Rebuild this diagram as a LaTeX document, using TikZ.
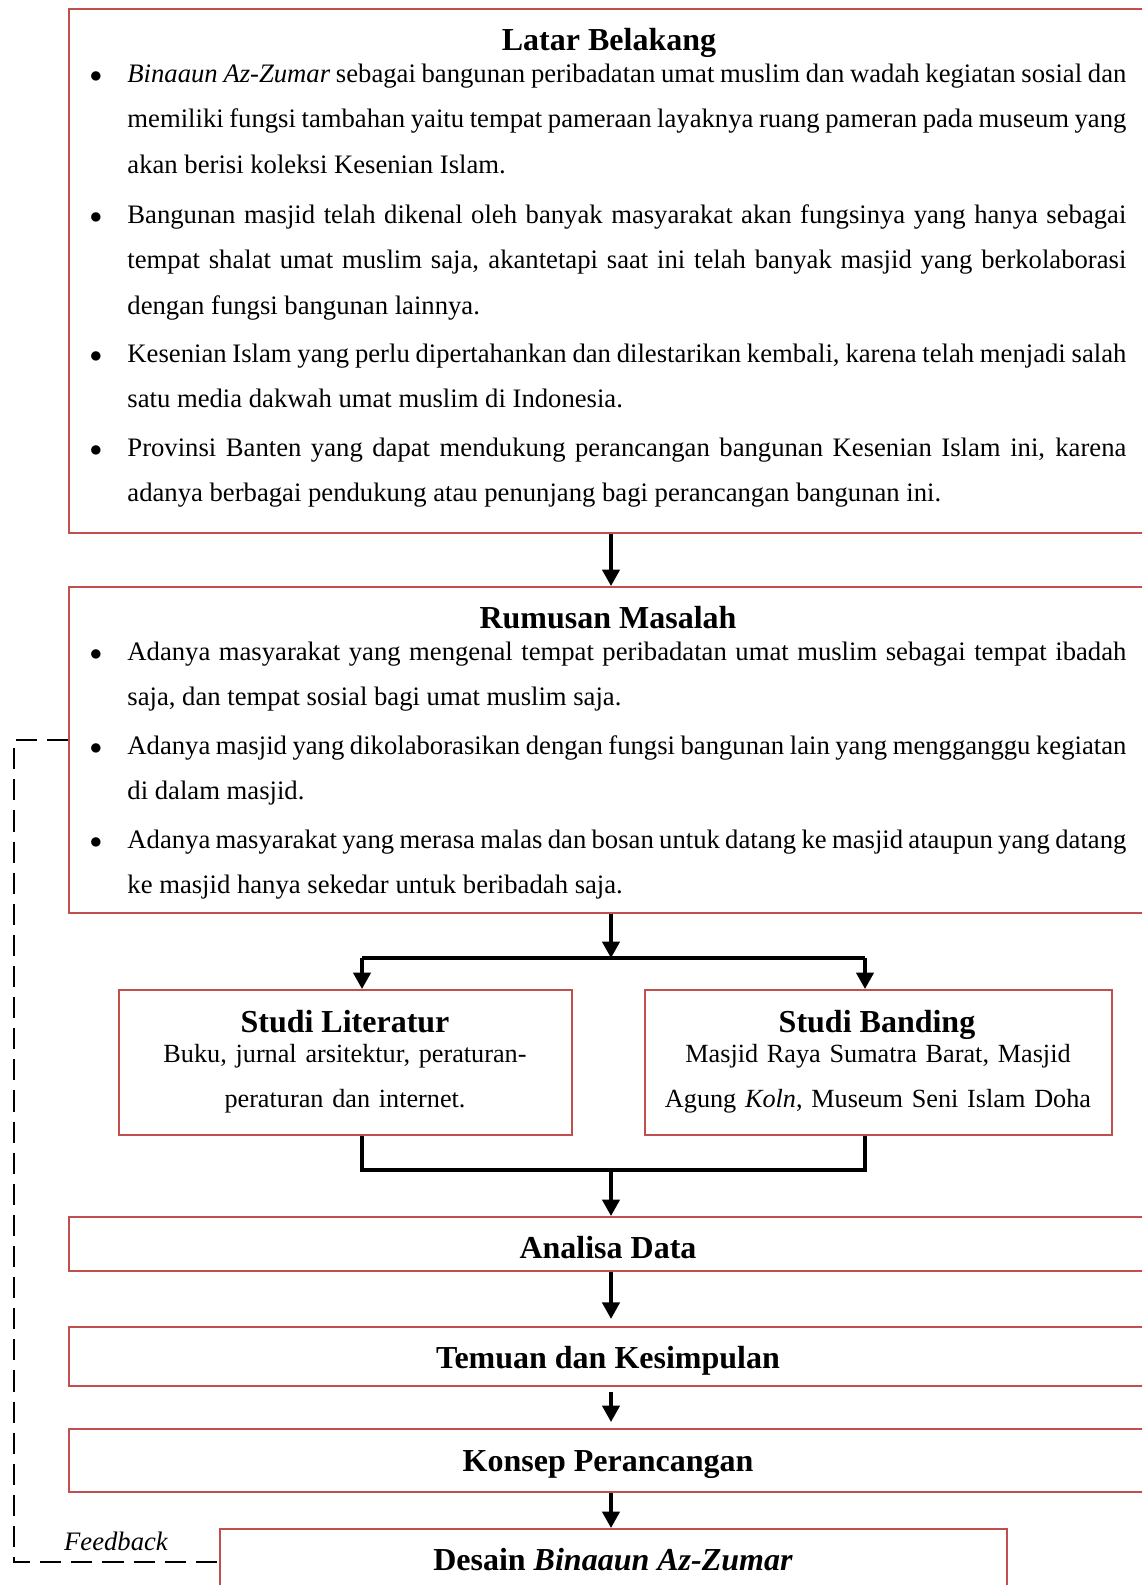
\documentclass[tikz,border=0pt]{standalone}
\usepackage{fontspec}
\setmainfont{Liberation Serif}
\usepackage{tikz}
\usetikzlibrary{arrows.meta,fit}
\definecolor{boxred}{HTML}{C0504D}
\hyphenpenalty=10000
\exhyphenpenalty=10000

\begin{document}
\begin{tikzpicture}[x=0.45pt,y=-0.45pt,
	redbox/.style={draw=boxred,line width=0.9pt,inner sep=0pt},
	heading/.style={anchor=base,inner sep=0pt,font=\fontsize{14.4}{16}\selectfont\bfseries},
	bullet/.style={anchor=base,inner sep=0pt,font=\fontsize{10.5}{12}\selectfont},
	itemtext/.style={anchor=base west,inner sep=0pt,text width=449.5pt,align=justify,
		font=\fontsize{12}{20.5}\selectfont},
	bodytext/.style={anchor=base,inner sep=0pt,text width=215pt,align=center,
		font=\fontsize{11.8}{20.5}\selectfont},
	link/.style={line width=1.5pt},
	flow/.style={line width=1.5pt,-{Triangle[width=7.8pt,length=7.4pt]}},
	feedback/.style={line width=1.1pt,dash pattern=on 9.5pt off 4.5pt}]
	\useasboundingbox (0,0) rectangle (1142,1585);
	\clip (0,0) rectangle (1142,1585);

		% boxes
		\node[redbox, fit={(69,9) (1148,533)}] (latar) {};
		\node[redbox, fit={(69,587) (1148,913)}] (rumusan) {};
		\node[redbox, fit={(119,990) (572,1135)}] (literatur) {};
		\node[redbox, fit={(645,990) (1112,1135)}] (banding) {};
		\node[redbox, fit={(69,1217) (1148,1271)}] (analisa) {};
		\node[redbox, fit={(69,1327) (1148,1386)}] (temuan) {};
		\node[redbox, fit={(69,1429) (1148,1492)}] (konsep) {};
		\node[redbox, fit={(220,1529) (1007,1620)}] (desain) {};

		% Latar Belakang
		\node[heading] (latarT) at (609,50) {Latar Belakang};
		\node[bullet] (latarB1) at (96,82) {$\bullet$};
		\node[itemtext] (latarI1) at (127,82) {\textit{Binaaun Az-Zumar} sebagai bangunan peribadatan umat muslim dan wadah kegiatan sosial dan\linebreak memiliki fungsi tambahan yaitu tempat pameraan layaknya ruang pameran pada museum yang\linebreak akan berisi koleksi Kesenian Islam.};
		\node[bullet] (latarB2) at (96,223) {$\bullet$};
		\node[itemtext] (latarI2) at (127,223) {Bangunan masjid telah dikenal oleh banyak masyarakat akan fungsinya yang hanya sebagai\linebreak tempat shalat umat muslim saja, akantetapi saat ini telah banyak masjid yang berkolaborasi\linebreak dengan fungsi bangunan lainnya.};
		\node[bullet] (latarB3) at (96,362) {$\bullet$};
		\node[itemtext] (latarI3) at (127,362) {Kesenian Islam yang perlu dipertahankan dan dilestarikan kembali, karena telah menjadi salah\linebreak satu media dakwah umat muslim di Indonesia.};
		\node[bullet] (latarB4) at (96,456) {$\bullet$};
		\node[itemtext] (latarI4) at (127,456) {Provinsi Banten yang dapat mendukung perancangan bangunan Kesenian Islam ini, karena\linebreak adanya berbagai pendukung atau penunjang bagi perancangan bangunan ini.};

		% Rumusan Masalah
		\node[heading] (rumusanT) at (608,628) {Rumusan Masalah};
		\node[bullet] (rumusanB1) at (96,660) {$\bullet$};
		\node[itemtext] (rumusanI1) at (127,660) {Adanya masyarakat yang mengenal tempat peribadatan umat muslim sebagai tempat ibadah\linebreak saja, dan tempat sosial bagi umat muslim saja.};
		\node[bullet] (rumusanB2) at (96,754) {$\bullet$};
		\node[itemtext] (rumusanI2) at (127,754) {Adanya masjid yang dikolaborasikan dengan fungsi bangunan lain yang mengganggu kegiatan\linebreak di dalam masjid.};
		\node[bullet] (rumusanB3) at (96,848) {$\bullet$};
		\node[itemtext] (rumusanI3) at (127,848) {Adanya masyarakat yang merasa malas dan bosan untuk datang ke masjid ataupun yang datang\linebreak ke masjid hanya sekedar untuk beribadah saja.};

		% studi
		\node[heading] (literaturT) at (345,1032) {Studi Literatur};
		\node[bodytext] (literaturI) at (345,1062) {Buku, jurnal arsitektur, peraturan-\\peraturan dan internet.};
		\node[heading] (bandingT) at (877,1032) {Studi Banding};
		\node[bodytext] (bandingI) at (878,1062) {Masjid Raya Sumatra Barat, Masjid\\Agung \textit{Koln}, Museum Seni Islam Doha};

		\node[heading] (analisaT) at (608,1258) {Analisa Data};
		\node[heading] (temuanT) at (608,1368) {Temuan dan Kesimpulan};
		\node[heading] (konsepT) at (608,1471) {Konsep Perancangan};
		\node[heading] (desainT) at (613,1570) {Desain \textit{Binaaun Az-Zumar}};

		% arrows
		\coordinate (MID) at (611,0);
		\coordinate (FORK) at (611,958);
		\coordinate (FORKL) at (362,958);
		\coordinate (FORKR) at (865,958);
		\coordinate (JOIN) at (611,1170);
		\coordinate (JOINL) at (362,1170);
		\coordinate (JOINR) at (865,1170);

		\draw[flow] (latar.south -| MID) -- (rumusan.north -| MID);
		\draw[flow] (rumusan.south -| FORK) -- (FORK);
		\draw[link] (FORKL) -- (FORKR);
		\draw[flow] (FORKL) -- (literatur.north -| FORKL);
		\draw[flow] (FORKR) -- (banding.north -| FORKR);
		\draw[link] (literatur.south -| JOINL) -- (JOINL) -- (JOINR) -- (banding.south -| JOINR);
		\draw[flow] (JOIN) -- (analisa.north -| JOIN);
		\draw[flow,shorten >=3.2pt] (analisa.south -| MID) -- (temuan.north -| MID);
		\draw[flow,shorten <=2.3pt,shorten >=2.7pt] (temuan.south -| MID) -- (konsep.north -| MID);
		\draw[flow] (konsep.south -| MID) -- (desain.north -| MID);

		% feedback
		\coordinate (FBTOP) at (14,740);
		\coordinate (FBBOT) at (14,1562);
		\draw[feedback] (FBTOP -| rumusan.west) -- (FBTOP) -- (FBBOT) -- (FBBOT -| desain.west);
		\node[anchor=base,inner sep=0pt,font=\fontsize{12}{14}\selectfont\itshape] (feedbackT) at (116,1550) {Feedback};

	\end{tikzpicture}
\end{document}
